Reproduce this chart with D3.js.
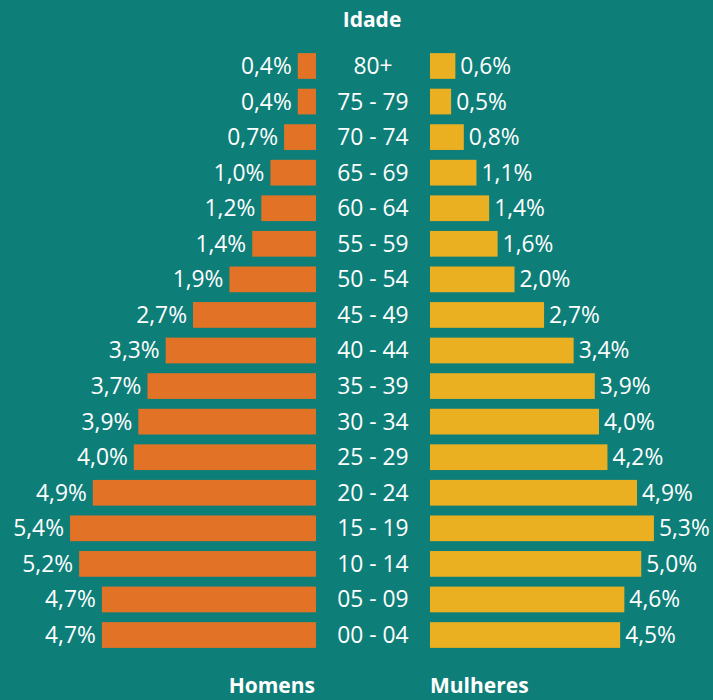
<!DOCTYPE html>
<html>
<head>
<meta charset="utf-8">
<script src="https://cdn.jsdelivr.net/npm/d3@7"></script>
<style>
  html, body { margin: 0; padding: 0; background: #0e7e79; }
  svg { display: block; }
  text { font-family: "Open Sans", "Noto Sans", sans-serif; fill: #ffffff; }
</style>
</head>
<body>
<svg id="chart" width="713" height="700"></svg>
<script>
// faixas etarias, de cima para baixo
const ages = ["80+", "75 - 79", "70 - 74", "65 - 69", "60 - 64", "55 - 59", "50 - 54",
  "45 - 49", "40 - 44", "35 - 39", "30 - 34", "25 - 29", "20 - 24", "15 - 19",
  "10 - 14", "05 - 09", "00 - 04"]
// % da populacao
const homens = [0.4, 0.4, 0.7, 1.0, 1.2, 1.4, 1.9, 2.7, 3.3, 3.7, 3.9, 4.0, 4.9, 5.4, 5.2, 4.7, 4.7]
const mulheres = [0.6, 0.5, 0.8, 1.1, 1.4, 1.6, 2.0, 2.7, 3.4, 3.9, 4.0, 4.2, 4.9, 5.3, 5.0, 4.6, 4.5]

const svg = d3.select("#chart")
const fmt = v => d3.format(".1f")(v).replace(".", ",") + "%"
const fs = "22.8px"

const y = d3.scaleBand()
    .domain(ages)
    .range([48.2, 652.8])
    .paddingInner(0.277)
    .paddingOuter(0.1385)

// the two sides don't share the same scale in the original
const xL = d3.scaleLinear().domain([0, 6]).range([316, 316 - 6 * 45.55])
const xR = d3.scaleLinear().domain([0, 6]).range([430, 430 + 6 * 42.25])

const rows = ages.map((a, i) => ({ age: a, h: homens[i], m: mulheres[i] }))

// homens
svg.append("g").selectAll("rect")
    .data(rows).enter().append("rect")
    .attr("x", d => xL(d.h))
    .attr("y", d => y(d.age))
    .attr("width", d => xL(0) - xL(d.h))
    .attr("height", y.bandwidth())
    .attr("fill", "#e27326")

svg.append("g").selectAll("text")
    .data(rows).enter().append("text")
    .attr("x", d => xL(d.h) - 6)
    .attr("y", d => y(d.age) + y.bandwidth() / 2)
    .attr("dy", "0.35em")
    .attr("text-anchor", "end")
    .style("font-size", fs)
    .text(d => fmt(d.h))

// mulheres
svg.append("g").selectAll("rect")
    .data(rows).enter().append("rect")
    .attr("x", xR(0))
    .attr("y", d => y(d.age))
    .attr("width", d => xR(d.m) - xR(0))
    .attr("height", y.bandwidth())
    .attr("fill", "#ebaf22")

svg.append("g").selectAll("text")
    .data(rows).enter().append("text")
    .attr("x", d => xR(d.m) + 5)
    .attr("y", d => y(d.age) + y.bandwidth() / 2)
    .attr("dy", "0.35em")
    .style("font-size", fs)
    .text(d => fmt(d.m))

// idade labels in the middle
svg.append("g").selectAll("text")
    .data(rows).enter().append("text")
    .attr("x", 373)
    .attr("y", d => y(d.age) + y.bandwidth() / 2)
    .attr("dy", "0.35em")
    .attr("text-anchor", "middle")
    .style("font-size", fs)
    .text(d => d.age)

svg.append("text")
    .attr("x", 372).attr("y", 27)
    .attr("text-anchor", "middle")
    .style("font-size", "21px").style("font-weight", "bold")
    .text("Idade")

svg.append("text")
    .attr("x", 315).attr("y", 693)
    .attr("text-anchor", "end")
    .style("font-size", "21px").style("font-weight", "bold")
    .text("Homens")

svg.append("text")
    .attr("x", 430).attr("y", 693)
    .style("font-size", "21px").style("font-weight", "bold")
    .text("Mulheres")
</script>
</body>
</html>
